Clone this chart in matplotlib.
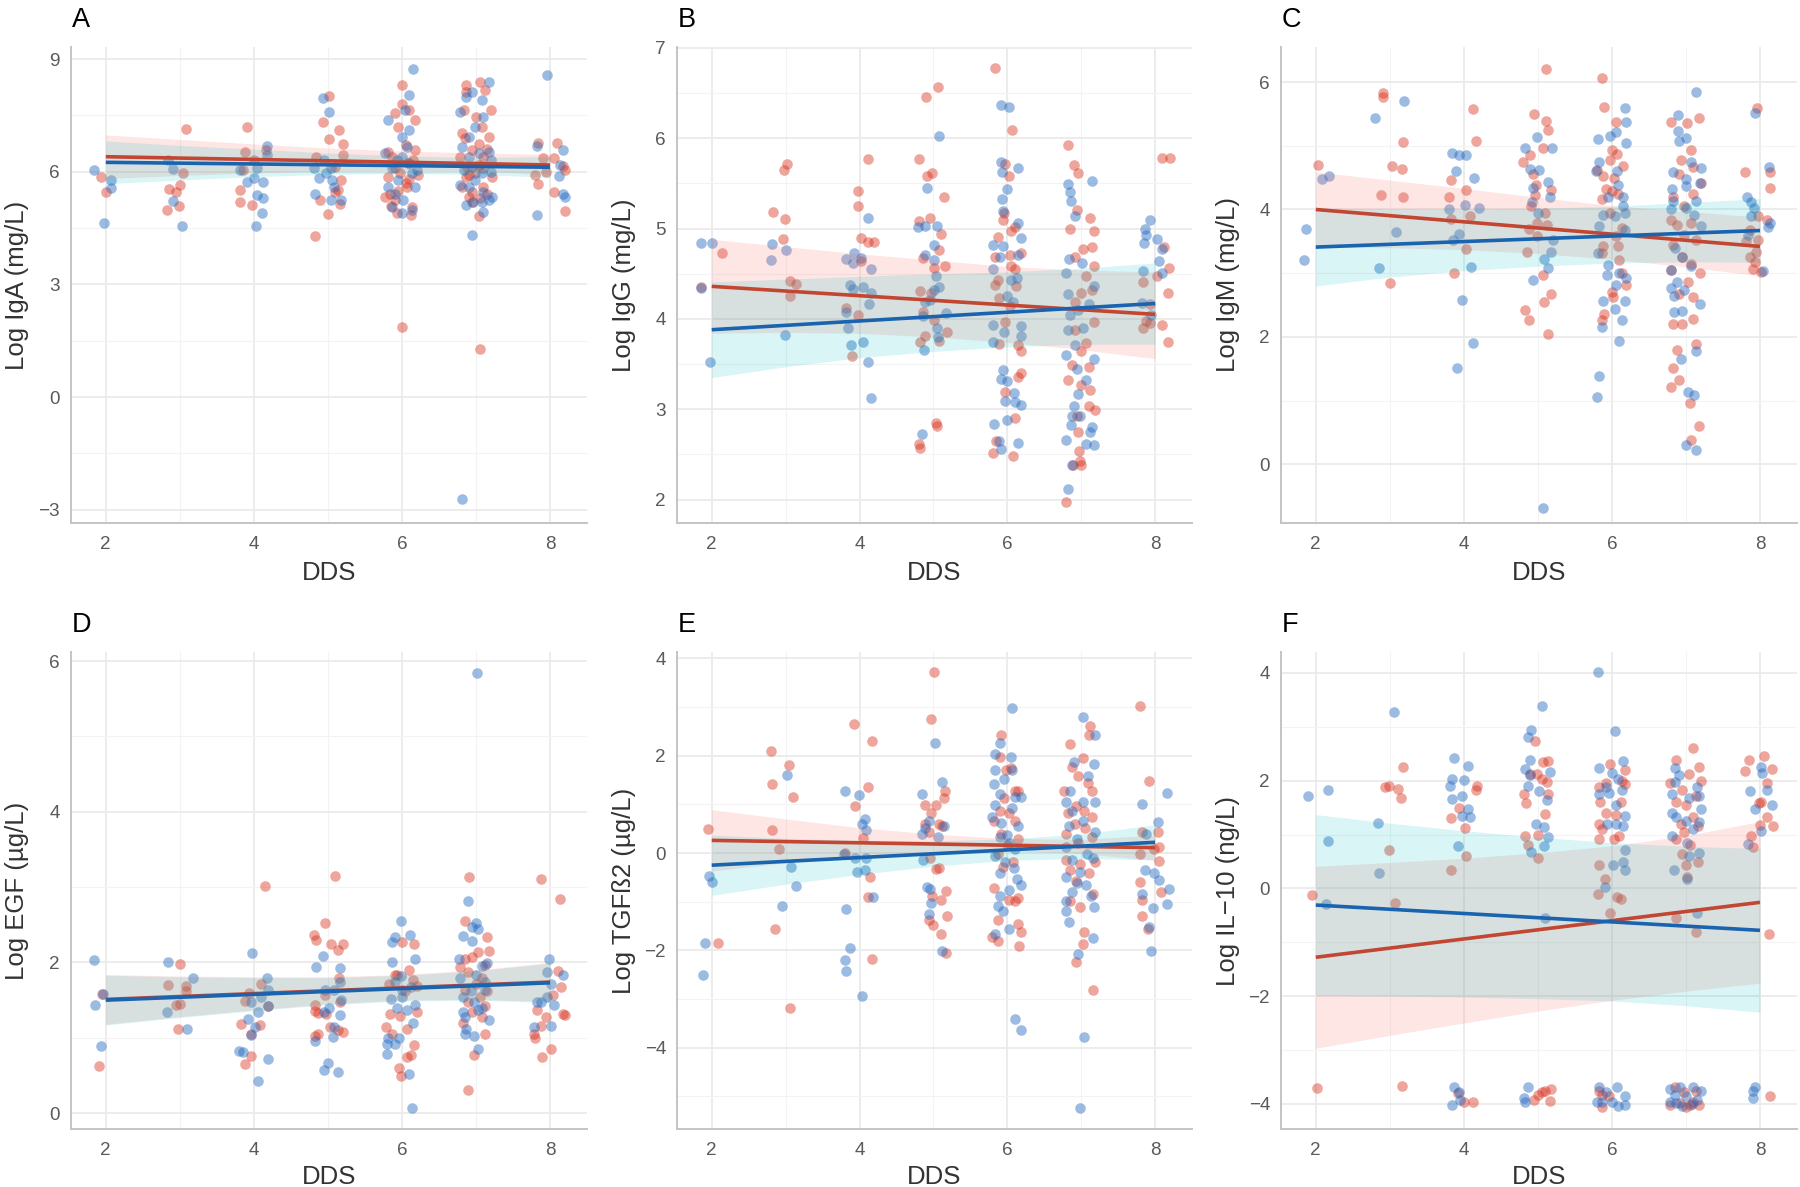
import numpy as np
import matplotlib
matplotlib.use("Agg")
import matplotlib.pyplot as plt

plt.rcParams['font.family'] = ['Liberation Sans', 'DejaVu Sans']

# ---------------- data ----------------
dds_grid = [2, 3, 4, 5, 6, 7, 8]

# Panel A : Log IgA (mg/L)
A_red = [(1.93,5.87),(2.0,5.47),
 (3.09,7.15),(2.82,4.98),(2.86,5.53),(2.95,5.47),(3.0,5.66),(2.99,5.1),(3.04,5.96),
 (3.91,7.19),(3.88,6.53),(3.81,5.51),(3.81,5.2),(3.97,5.12),(4.0,6.31),(4.16,6.58),(3.86,6.04),
 (4.83,4.29),(5.02,8.02),(4.94,7.33),(5.15,7.11),(5.02,6.88),(5.2,6.73),(5.2,6.44),(4.84,6.4),(5.09,6.13),
 (5.18,5.78),(4.9,5.25),(5.09,5.47),(5.0,4.87),(5.17,5.14),(5.13,5.51),
 (6.0,8.3),(6.0,7.81),(5.91,7.55),(6.18,7.37),(5.95,7.2),(6.09,7.64),(5.81,6.53),(6.18,6.58),(6.09,6.22),
 (5.81,5.87),(6.22,5.91),(5.77,5.34),(5.91,5.25),(6.05,5.69),(6.13,5.07),(5.93,4.89),(6.12,4.85),(6.0,1.88),
 (5.86,6.4),(6.07,5.6),(5.98,5.96),(5.84,5.42),(5.9,6.1),(6.1,5.8),(5.95,5.5),(6.15,6.3),(5.85,5.1),(6.05,6.7),
 (6.86,8.3),(6.86,8.12),(7.06,8.39),(7.12,8.17),(6.84,7.63),(7.0,7.46),(7.2,7.63),(6.81,7.02),(7.08,7.19),
 (7.04,6.75),(7.17,6.93),(6.79,6.4),(6.95,6.58),(7.1,6.4),(6.88,6.13),(7.04,6.18),(7.22,5.87),(6.81,5.6),
 (6.95,5.47),(7.1,5.6),(7.15,5.42),(6.9,5.34),(7.04,4.81),(7.05,1.28),(6.86,5.87),(6.99,5.96),
 (6.9,5.9),(7.1,6.1),(6.95,5.2),(7.15,6.6),(6.85,6.9),(7.05,5.3),
 (7.84,6.76),(8.09,6.77),(7.9,6.36),(8.06,6.36),(7.8,5.91),(7.84,5.67),(8.2,6.05),(8.06,5.47),(8.2,4.96),
 (7.95,6.0),(8.17,6.15)]
A_blue = [(1.84,6.04),(1.98,4.63),(2.07,5.78),(2.07,5.56),
 (2.84,6.31),(2.91,6.06),(2.91,5.22),(3.03,4.56),
 (3.81,6.04),(3.91,5.73),(4.04,6.09),(4.04,5.38),(4.13,5.73),(4.13,5.29),(4.11,4.89),(4.03,4.56),(4.18,6.69),
 (4.18,6.44),(4.0,5.82),
 (4.93,7.97),(5.01,7.58),(4.83,5.42),(4.88,5.82),(4.97,5.96),(5.04,6.09),(5.06,5.78),(5.04,5.25),(5.18,5.25),
 (4.81,6.09),(4.95,6.31),(5.08,5.6),
 (6.15,8.74),(6.1,8.05),(5.81,7.37),(6.0,6.93),(6.04,7.63),(6.1,7.1),(5.77,6.49),(5.86,6.09),(6.0,6.4),
 (5.95,5.78),(6.13,5.96),(6.2,6.04),(5.81,5.6),(5.9,5.42),(6.02,5.25),(6.13,4.98),(6.0,4.89),(5.86,5.07),
 (6.07,6.67),(6.18,5.6),(5.93,6.31),(6.08,6.22),
 (6.81,-2.72),(6.95,4.31),(6.86,7.99),(6.94,8.12),(7.08,7.9),(7.17,8.39),(6.79,7.59),(6.9,6.93),(6.99,7.2),
 (7.1,7.46),(6.81,6.66),(6.9,6.4),(7.04,6.49),(7.17,6.53),(7.2,6.31),(6.84,6.04),(6.95,6.13),(7.08,5.96),
 (7.2,6.0),(6.79,5.65),(6.9,5.6),(6.99,5.78),(7.1,5.47),(7.22,5.34),(6.87,5.12),(6.96,5.2),(7.08,5.2),
 (7.1,4.94),(7.17,5.25),
 (7.96,8.57),(7.82,6.68),(8.17,6.58),(8.13,6.18),(8.12,5.89),(8.17,5.42),(8.2,5.34),(7.83,4.85)]
A_red_line = [6.40, 6.18]
A_blue_line = [6.25, 6.12]
A_red_lo = [5.82, 5.90, 5.97, 6.02, 6.04, 6.02, 5.92]
A_red_hi = [6.98, 6.86, 6.74, 6.63, 6.55, 6.50, 6.46]
A_blue_lo = [5.68, 5.78, 5.87, 5.93, 5.95, 5.93, 5.85]
A_blue_hi = [6.82, 6.70, 6.60, 6.50, 6.42, 6.38, 6.40]

# Panel B : Log IgG (mg/L)
B_red = [(2.14,4.73),(1.86,4.35),
 (2.83,5.18),(2.98,5.65),(3.02,5.71),(2.99,5.11),(2.97,4.88),(3.06,4.42),(3.14,4.39),(3.06,4.25),
 (4.12,5.77),(3.98,5.42),(3.98,5.25),(4.02,4.89),(4.11,4.85),(4.2,4.85),(4.02,4.64),(3.82,4.12),(3.98,4.04),(3.9,3.59),
 (4.9,6.46),(5.06,6.57),(4.8,5.77),(4.91,5.58),(4.98,5.62),(5.14,5.35),(4.8,5.08),(4.95,5.12),(5.1,4.94),(5.07,4.76),
 (4.86,4.67),(5.01,4.56),(5.16,4.58),(4.82,4.31),(4.97,4.29),(4.86,4.08),(5.01,3.99),(5.18,3.85),(4.89,3.81),
 (4.82,3.74),(5.08,3.75),(5.04,2.85),(5.05,2.81),(4.81,2.61),(4.82,2.57),
 (5.84,6.78),(6.06,6.09),(5.97,5.71),(6.02,5.58),(5.96,5.17),(5.94,5.1),(6.05,4.97),(6.1,5.02),(5.87,4.91),
 (6.18,4.73),(6.04,4.71),(5.84,4.68),(6.05,4.58),(6.1,4.55),(5.87,4.43),(5.83,4.38),(6.12,4.36),(5.89,4.23),
 (6.04,4.14),(5.97,3.96),(6.14,3.71),(6.18,3.64),(5.89,3.72),(6.18,3.4),(6.14,3.36),(5.97,3.19),(6.1,2.9),
 (5.85,2.65),(5.8,2.51),(6.08,2.48),
 (6.82,5.93),(6.9,5.7),(6.96,5.62),(6.95,5.2),(6.85,4.99),(7.12,5.12),(7.18,4.97),(7.14,4.8),(7.03,4.77),
 (6.92,4.69),(7.17,4.58),(7.06,4.47),(7.14,4.32),(7.0,4.29),(6.92,4.19),(7.17,3.97),(6.92,3.88),(7.06,3.73),
 (7.0,3.64),(7.1,3.47),(6.87,3.49),(6.82,3.32),(7.12,3.21),(7.0,3.27),(7.1,3.04),(7.19,2.99),(6.94,2.93),
 (6.96,2.75),(6.97,2.54),(6.89,2.38),(7.0,2.38),(6.8,1.97),(6.99,2.43),
 (8.1,5.78),(8.2,5.78),(8.12,4.8),(8.19,4.56),(8.02,4.47),(7.84,4.41),(8.17,4.29),(7.93,4.16),(8.09,3.93),
 (7.84,3.9),(7.93,3.95),(8.18,3.74),(7.88,3.98)]
B_blue = [(1.85,4.84),(2.0,4.84),(1.86,4.34),(1.97,3.52),
 (2.82,4.83),(2.8,4.65),(3.01,4.76),(2.99,3.82),
 (4.11,5.12),(3.82,4.66),(3.93,4.73),(4.02,4.67),(3.91,4.62),(4.15,4.55),(3.87,4.37),(4.05,4.35),(4.15,4.29),
 (3.91,4.33),(4.13,4.17),(3.82,4.08),(3.84,3.9),(3.88,3.71),(4.05,3.74),(4.11,3.52),(4.16,3.12),
 (5.07,6.02),(4.92,5.45),(4.79,5.02),(4.88,5.03),(5.05,5.03),(5.01,4.82),(4.89,4.71),(5.01,4.65),(5.03,4.47),
 (5.08,4.35),(5.01,4.32),(4.88,4.19),(4.96,4.21),(4.86,4.03),(5.17,4.07),(5.05,3.9),(5.06,3.8),(4.87,3.66),(4.85,2.72),
 (5.92,6.37),(6.02,6.35),(5.91,5.74),(5.93,5.63),(6.14,5.67),(6.0,5.44),(5.93,5.33),(5.94,5.19),(6.14,5.06),
 (6.19,4.9),(5.8,4.82),(5.94,4.81),(5.9,4.68),(6.14,4.71),(5.81,4.55),(6.05,4.43),(6.13,4.45),(6.0,4.25),
 (6.08,4.19),(5.81,3.93),(5.96,3.86),(6.18,3.92),(6.18,3.81),(5.81,3.74),(5.94,3.43),(5.91,3.33),(6.0,3.31),
 (6.09,3.18),(5.97,3.09),(6.11,3.08),(6.19,3.05),(5.82,2.84),(5.99,2.88),(5.89,2.65),(6.14,2.63),(5.91,2.56),
 (6.82,5.49),(6.85,5.4),(6.86,5.3),(7.14,5.53),(6.92,5.14),(6.8,4.51),(6.82,4.27),(6.84,4.66),(7.01,4.62),
 (7.17,4.36),(6.96,4.1),(6.85,4.04),(7.1,4.17),(7.03,3.9),(6.82,3.88),(6.92,3.71),(6.8,3.6),(7.17,3.56),
 (6.94,3.45),(7.06,3.32),(6.96,3.17),(6.9,3.03),(6.87,2.93),(6.86,2.82),(6.99,2.93),(7.15,2.8),(7.12,2.75),
 (6.79,2.66),(7.06,2.62),(7.17,2.6),(6.82,2.12),(6.88,2.38),
 (7.93,5.09),(7.86,4.99),(7.88,4.93),(8.02,4.88),(8.09,4.77),(7.85,4.84),(7.84,4.53),(8.05,4.64),(8.09,4.51),
 (7.82,4.18),(7.94,4.04)]
B_red_line = [4.36, 4.05]
B_blue_line = [3.88, 4.17]
B_red_lo = [3.84, 3.85, 3.84, 3.80, 3.74, 3.66, 3.56]
B_red_hi = [4.88, 4.80, 4.72, 4.65, 4.58, 4.54, 4.52]
B_blue_lo = [3.35, 3.47, 3.57, 3.64, 3.69, 3.72, 3.72]
B_blue_hi = [4.41, 4.44, 4.47, 4.50, 4.52, 4.56, 4.62]

# Panel C : Log IgM (mg/L)
C_red = [(2.03,4.7),(2.91,5.83),(2.91,5.77),(3.18,5.06),(3.03,4.69),(3.17,4.63),(2.88,4.23),(3.18,4.19),(3.0,2.85),
 (4.12,5.58),(4.17,5.08),(3.83,4.46),(3.8,4.2),(4.03,4.31),(3.83,3.85),(4.08,3.9),(4.03,3.38),(3.87,3.01),
 (5.11,6.2),(4.95,5.5),(5.11,5.39),(5.13,5.25),(4.9,4.86),(5.07,4.97),(4.8,4.75),(4.94,4.55),(4.98,4.39),
 (5.18,4.31),(4.96,4.22),(4.91,4.05),(5.1,3.94),(4.99,3.79),(4.88,3.69),(5.12,3.75),(4.99,3.59),(4.85,3.34),
 (5.07,2.97),(5.18,2.68),(4.83,2.43),(4.88,2.27),(5.08,2.55),(5.13,2.05),
 (5.87,6.07),(5.89,5.61),(6.05,5.37),(6.0,4.94),(6.07,4.87),(5.98,4.77),(6.15,4.68),(5.8,4.62),(5.88,4.53),
 (6.03,4.5),(5.92,4.32),(6.0,4.29),(5.86,4.16),(6.08,4.24),(5.97,3.95),(6.14,3.71),(6.05,3.58),(5.88,3.42),
 (6.08,3.42),(5.86,3.31),(6.1,3.2),(6.14,3.0),(6.19,2.81),(6.0,2.7),(5.89,2.36),(5.86,2.26),(6.01,2.62),
 (7.17,5.44),(7.02,5.35),(6.8,5.38),(7.07,4.93),(6.93,4.78),(7.09,4.66),(6.9,4.56),(7.21,4.42),(6.83,4.19),
 (7.1,4.24),(6.98,4.05),(6.8,3.84),(6.88,3.75),(7.07,3.79),(6.98,3.6),(7.14,3.52),(6.83,3.44),(6.95,3.26),
 (7.07,3.15),(6.8,3.05),(7.19,3.0),(7.03,2.86),(6.9,2.68),(7.09,2.62),(6.83,2.2),(6.95,2.2),(7.1,2.28),
 (7.13,1.89),(6.88,1.8),(6.83,1.51),(6.91,1.33),(6.8,1.21),(7.06,0.96),(7.17,0.6),(7.07,0.38),
 (7.96,5.6),(7.8,4.59),(8.14,4.59),(8.14,4.33),(7.97,3.9),(8.09,3.83),(7.86,3.68),(7.97,3.52),(7.81,3.5),
 (7.95,3.34),(7.86,3.26),(7.9,3.06),(8.02,3.02),(7.93,3.18)]
C_blue = [(1.87,3.70),(1.84,3.21),(2.08,4.48),(2.18,4.53),
 (2.8,5.43),(3.19,5.7),(2.86,3.08),(3.08,3.65),
 (3.84,4.89),(3.93,4.86),(4.03,4.86),(3.89,4.61),(4.14,4.5),(3.8,4.0),(4.02,4.07),(4.2,4.02),(3.93,3.62),
 (3.86,3.52),(4.1,3.1),(3.97,2.58),(4.12,1.9),(3.91,1.51),
 (4.83,4.97),(4.99,5.13),(5.19,4.96),(4.9,4.64),(5.02,4.62),(4.94,4.33),(5.13,4.43),(4.92,4.11),(5.16,4.19),
 (5.0,3.95),(5.2,3.52),(5.18,3.33),(5.08,3.22),(5.13,3.08),(4.94,2.9),(5.07,-0.68),
 (6.17,5.6),(6.19,5.38),(6.19,5.05),(6.06,5.21),(5.97,5.15),(5.81,5.11),(5.83,4.74),(5.79,4.61),(6.07,4.61),
 (6.08,4.38),(6.15,4.2),(5.95,4.2),(6.15,4.05),(6.04,3.89),(5.88,3.92),(6.17,3.95),(5.83,3.74),(6.17,3.68),
 (5.81,3.32),(5.95,3.13),(6.1,3.0),(5.94,2.97),(6.19,2.92),(6.06,2.81),(5.88,2.56),(6.17,2.57),(6.04,2.44),
 (6.13,2.26),(5.86,2.16),(6.1,1.94),(5.82,1.39),(5.8,1.05),
 (7.14,5.84),(6.89,5.49),(6.89,5.23),(7.0,5.12),(6.91,5.07),(7.07,4.74),(7.21,4.65),(6.83,4.59),(7.0,4.48),
 (7.0,4.37),(7.19,4.42),(6.81,4.32),(6.83,4.13),(7.13,4.13),(7.0,4.03),(6.8,4.0),(7.11,3.92),(7.21,3.74),
 (6.85,3.39),(6.94,3.26),(6.8,3.05),(7.07,3.11),(6.8,2.77),(6.88,2.86),(6.84,2.65),(6.98,2.73),(7.19,2.52),
 (6.84,2.39),(6.94,2.41),(7.14,1.78),(6.93,1.66),(7.03,1.13),(7.11,1.09),(7.0,0.3),(7.14,0.22),
 (7.93,5.51),(8.12,4.67),(7.83,4.2),(7.88,4.12),(7.92,4.03),(7.88,3.89),(8.13,3.79),(8.11,3.72),(8.04,3.03),(7.84,3.6)]
C_red_line = [4.00, 3.42]
C_blue_line = [3.41, 3.67]
C_red_lo = [3.41, 3.40, 3.37, 3.31, 3.22, 3.10, 2.96]
C_red_hi = [4.59, 4.46, 4.33, 4.19, 4.06, 3.97, 3.88]
C_blue_lo = [2.80, 2.94, 3.04, 3.11, 3.16, 3.18, 3.17]
C_blue_hi = [4.02, 4.01, 4.01, 4.02, 4.05, 4.11, 4.17]

# Panel D : Log EGF (ug/L)
D_red = [(1.91,0.62),(1.95,1.58),
 (3.0,1.98),(2.84,1.7),(3.08,1.69),(3.08,1.62),(3.0,1.45),(2.95,1.44),(2.97,1.12),
 (4.15,3.01),(3.88,0.65),(3.96,0.76),(3.82,1.19),(4.08,1.17),(3.96,1.05),(3.88,1.49),(3.94,1.59),(4.09,1.72),(4.19,1.42),
 (5.09,3.15),(4.96,2.53),(4.81,2.37),(4.84,2.3),(5.04,2.25),(5.2,2.25),(5.13,2.17),(5.15,1.8),(4.96,1.57),
 (4.82,1.43),(4.83,1.35),(4.98,1.32),(4.87,1.33),(5.17,1.47),(5.03,1.15),(5.13,1.1),(5.2,1.08),(4.86,1.05),(4.83,1.02),
 (6.0,2.27),(6.16,2.25),(6.09,1.9),(5.91,1.84),(5.83,1.72),(6.15,1.77),(6.04,1.62),(6.2,1.69),(5.84,1.32),
 (5.98,1.29),(6.2,1.34),(5.79,1.15),(6.07,1.12),(5.87,1.05),(6.16,0.9),(6.12,0.77),(6.07,0.75),(5.96,0.6),
 (5.99,0.49),(5.94,1.84),
 (6.91,3.14),(6.85,2.55),(7.15,2.34),(7.03,2.14),(7.18,2.15),(6.85,2.04),(6.95,2.07),(6.79,1.94),(7.12,1.97),
 (6.89,1.87),(7.08,1.79),(7.0,1.72),(6.85,1.64),(7.15,1.62),(7.05,1.54),(6.89,1.47),(7.12,1.42),(6.95,1.34),
 (7.08,1.27),(6.82,1.2),(7.12,1.05),(6.97,0.77),(6.89,0.31),
 (7.88,3.11),(8.14,2.84),(8.11,1.89),(8.15,1.67),(8.04,1.57),(7.83,1.37),(7.94,1.27),(8.17,1.32),(8.2,1.3),
 (7.88,1.16),(7.79,1.05),(7.8,1.0),(7.89,0.74),(8.01,0.85)]
D_blue = [(1.84,2.03),(1.85,1.43),(1.93,0.89),(1.96,1.58),
 (2.84,2.01),(2.82,1.34),(3.1,1.12),(3.18,1.79),
 (3.98,2.12),(3.8,0.82),(3.86,0.81),(4.05,0.43),(4.19,0.72),(3.92,1.25),(4.01,1.15),(3.96,1.04),(4.18,1.8),
 (4.19,1.64),(4.09,1.54),(4.19,1.42),(4.06,1.34),(3.96,1.47),
 (4.93,2.08),(4.84,1.94),(5.16,1.93),(5.16,1.74),(4.96,1.64),(5.08,1.64),(5.18,1.5),(5.02,1.39),(4.95,1.34),
 (5.17,1.3),(5.08,1.15),(5.07,1.01),(4.82,0.96),(5.0,0.67),(4.95,0.57),(5.14,0.55),
 (5.99,2.55),(5.91,2.34),(5.86,2.27),(6.11,2.37),(5.86,2.0),(6.17,2.05),(5.99,1.82),(5.91,1.74),(6.12,1.67),
 (5.85,1.52),(6.0,1.54),(6.17,1.44),(5.93,1.39),(6.07,1.37),(6.15,1.2),(5.81,1.0),(5.96,1.0),(5.8,0.92),
 (5.91,0.92),(5.8,0.78),(6.09,0.52),(6.14,0.07),(6.0,1.64),
 (7.02,5.84),(6.89,2.81),(7.0,2.53),(6.95,2.47),(7.03,2.44),(6.82,2.35),(6.95,2.29),(6.77,2.04),(7.08,1.95),
 (7.15,1.99),(6.79,1.79),(7.0,1.84),(7.12,1.74),(6.82,1.54),(6.97,1.47),(7.08,1.39),(6.82,1.34),(6.85,1.27),
 (7.03,1.37),(7.18,1.24),(6.87,1.12),(6.97,1.02),(6.85,1.05),(7.03,0.85),(7.12,1.64),(6.93,1.62),
 (7.99,2.04),(7.96,1.88),(8.01,1.72),(8.17,1.83),(7.83,1.47),(7.88,1.48),(8.06,1.44),(7.78,1.15),(8.02,1.16),(7.96,1.54)]
D_red_line = [1.51, 1.74]
D_blue_line = [1.50, 1.73]
D_red_lo = [1.18, 1.28, 1.37, 1.45, 1.50, 1.51, 1.48]
D_red_hi = [1.84, 1.82, 1.81, 1.81, 1.84, 1.90, 2.00]
D_blue_lo = [1.17, 1.27, 1.36, 1.44, 1.49, 1.50, 1.47]
D_blue_hi = [1.83, 1.81, 1.80, 1.80, 1.83, 1.89, 1.99]

# Panel E : Log TGFß2 (ug/L)
E_red = [(1.95,0.49),(2.08,-1.85),
 (2.8,2.09),(2.81,1.41),(2.81,0.47),(2.91,0.08),(3.05,1.8),(3.1,1.15),(2.85,-1.57),(3.06,-3.19),
 (3.92,2.65),(4.17,2.3),(4.11,1.36),(3.94,0.96),(4.05,0.3),(3.8,0.01),(4.14,-0.49),(4.11,-0.9),(4.17,-2.17),
 (5.01,3.71),(4.97,2.76),(5.16,1.28),(5.14,1.14),(5.03,0.99),(4.89,0.99),(4.97,0.83),(4.88,0.59),(5.07,0.59),
 (4.94,0.43),(5.12,0.55),(4.96,-0.11),(5.04,-0.32),(5.07,-0.3),(5.17,-0.78),(4.98,-0.88),(5.1,-0.96),
 (4.94,-1.38),(4.99,-1.47),(5.19,-1.3),(5.1,-1.67),(5.17,-2.05),
 (5.91,2.42),(5.9,1.97),(6.05,1.74),(5.98,1.7),(6.1,1.28),(5.95,1.13),(6.15,1.28),(5.9,0.86),(5.82,0.66),
 (6.03,0.82),(6.1,0.66),(5.92,0.39),(6.15,0.28),(6.0,0.16),(5.87,-0.03),(6.08,-0.18),(5.94,-0.28),(5.82,-0.72),
 (6.03,-0.96),(6.1,-0.99),(6.14,-0.92),(5.88,-1.38),(6.14,-1.46),(6.19,-1.63),(5.79,-1.73),(5.87,-1.81),(6.16,-1.9),
 (6.85,2.24),(7.12,2.6),(7.11,2.42),(7.02,1.95),(6.87,1.76),(6.96,1.59),(7.09,1.43),(6.77,1.28),(7.15,1.28),
 (6.93,0.97),(7.04,0.86),(6.82,0.82),(7.14,0.74),(6.91,0.59),(7.05,0.51),(6.8,0.39),(7.14,0.32),(6.96,0.2),
 (6.8,-0.15),(7.19,-0.18),(6.98,-0.22),(6.85,-0.34),(7.11,-0.42),(6.93,-0.57),(7.16,-0.84),(6.85,-0.99),
 (6.98,-1.11),(7.04,-1.63),(7.03,-1.87),(6.93,-2.23),(7.16,-2.82),
 (7.8,3.03),(7.92,1.47),(7.82,0.43),(8.04,0.43),(7.8,-0.02),(8.06,0.12),(7.98,0.08),(8.06,-0.17),(7.8,-0.6),
 (7.82,-0.96),(7.83,-1.3),(7.91,-1.57),(8.08,-0.8)]
E_blue = [(1.88,-2.51),(1.91,-1.85),(1.96,-0.48),(2.0,-0.59),
 (3.02,1.6),(2.95,-1.09),(3.07,-0.29),(3.14,-0.67),
 (3.81,1.28),(3.99,1.19),(4.08,0.69),(4.04,0.6),(4.09,0.47),(3.79,-0.01),(3.94,-0.11),(4.09,-0.11),(3.96,-0.38),
 (4.08,-0.34),(4.18,-0.9),(3.82,-1.15),(3.87,-1.96),(3.81,-2.2),(3.82,-2.42),(4.04,-2.94),
 (5.02,2.26),(5.12,1.46),(5.14,0.56),(4.94,0.66),(4.84,0.39),(4.89,0.51),(4.86,-0.15),(4.92,-0.69),(4.95,-0.74),
 (4.97,-1.03),(4.94,-1.25),(5.12,-2.01),(4.84,1.22),(5.06,0.32),
 (6.06,2.97),(5.9,2.26),(5.84,2.03),(6.05,1.97),(5.83,1.7),(6.07,1.7),(5.95,1.53),(5.82,1.42),(5.9,1.22),
 (6.1,1.15),(6.18,1.15),(5.84,0.99),(6.07,0.93),(5.79,0.74),(5.92,0.62),(6.15,0.55),(5.9,0.32),(6.03,0.2),
 (6.1,0.08),(5.84,-0.07),(5.97,-0.18),(6.09,-0.3),(5.9,-0.42),(6.13,-0.53),(6.19,-0.65),(6.03,-0.76),(5.9,-0.88),
 (5.87,-1.09),(5.94,-1.19),(6.02,-1.56),(5.84,-1.66),(6.1,-3.42),(6.18,-3.64),(6.0,0.36),
 (7.02,2.8),(7.19,2.42),(7.18,1.82),(6.9,1.88),(7.09,1.59),(6.85,1.28),(7.03,1.05),(6.8,1.05),(7.19,1.05),
 (6.88,0.86),(7.03,0.66),(6.83,0.55),(7.19,0.43),(6.94,0.28),(6.8,0.12),(7.08,-0.03),(6.88,-0.15),(7.16,-0.11),
 (6.98,-0.38),(6.8,-0.49),(6.94,-0.61),(7.07,-0.65),(6.88,-0.8),(7.13,-0.88),(6.8,-0.99),(6.8,-1.19),(7.18,-1.11),
 (6.84,-1.42),(7.16,-1.74),(6.96,-2.07),(7.04,-3.77),(6.99,-5.23),
 (7.82,1.01),(8.16,1.23),(8.04,0.64),(7.88,0.39),(7.87,-0.35),(7.99,-0.42),(8.06,-0.56),(8.19,-0.74),(7.82,-0.84),
 (8.16,-1.05),(7.97,-1.13),(7.92,-1.51),(7.95,-2.01)]
E_red_line = [0.26, 0.11]
E_blue_line = [-0.25, 0.22]
E_red_lo = [-0.37, -0.20, -0.07, 0.02, 0.05, -0.01, -0.15]
E_red_hi = [0.89, 0.70, 0.52, 0.39, 0.30, 0.28, 0.37]
E_blue_lo = [-0.87, -0.64, -0.44, -0.27, -0.15, -0.11, -0.14]
E_blue_hi = [0.37, 0.30, 0.26, 0.25, 0.29, 0.39, 0.58]

# Panel F : Log IL-10 (ng/L)
F_red = [(1.95,-0.12),(2.02,-3.71),
 (2.93,1.89),(2.99,1.91),(3.11,1.85),(3.15,1.68),(3.18,2.25),(2.99,0.72),(3.07,-0.27),(3.16,-3.67),
 (3.82,1.3),(3.93,1.5),(4.01,1.12),(4.18,1.9),(4.17,1.82),(4.03,0.61),(3.82,0.34),(3.92,-3.81),(4.0,-3.97),(4.12,-3.97),
 (4.96,2.74),(5.07,2.34),(5.14,2.36),(4.9,2.13),(4.99,2.13),(5.06,2.04),(5.12,1.97),(4.81,1.76),(4.84,1.59),
 (5.14,1.76),(5.09,1.39),(4.82,0.98),(5.0,0.99),(4.87,0.81),(5.0,0.56),(4.95,-3.93),(5.05,-3.79),(5.1,-3.76),
 (5.18,-3.72),(5.17,-3.95),(5.0,-3.84),
 (5.82,0.43),(5.9,0.18),(5.97,-0.46),(5.81,-0.1),(6.07,-0.17),(6.12,-0.2),(5.82,1.89),(5.92,1.96),(6.13,2.0),
 (6.18,1.94),(5.84,1.61),(5.92,1.4),(6.05,1.37),(5.82,1.19),(5.87,1.11),(6.1,0.98),(6.03,0.91),(5.82,0.91),
 (6.12,1.61),(5.97,2.31),(6.18,2.2),(5.86,-3.83),(5.87,-4.07),(5.96,-3.86),(5.83,-3.76),
 (7.09,2.61),(6.87,2.38),(7.18,2.25),(7.04,2.13),(7.2,1.99),(6.79,1.96),(6.95,1.82),(7.13,1.71),(6.87,1.61),
 (7.0,1.54),(7.09,1.33),(6.93,1.19),(7.16,1.16),(6.98,1.05),(6.86,0.91),(7.06,0.81),(6.95,0.63),(7.0,0.44),
 (7.01,0.22),(7.16,0.49),(6.86,-0.56),(7.14,-0.82),(6.85,-3.69),(6.98,-3.79),(7.13,-3.76),(6.79,-4.03),
 (6.92,-3.99),(7.05,-4.02),(7.18,-4.03),(7.1,-3.97),(7.0,-4.07),
 (7.85,2.39),(7.8,2.18),(8.05,2.46),(8.16,2.22),(8.1,1.96),(7.98,1.59),(8.02,1.61),(8.1,1.32),(8.0,1.18),
 (8.17,1.16),(7.88,0.98),(7.91,0.77),(8.12,-0.85),(8.13,-3.86)]
F_blue = [(1.9,1.71),(2.17,1.83),(2.17,0.88),(2.14,-0.29),
 (3.06,3.28),(2.84,1.21),(2.85,0.29),
 (3.87,2.43),(4.05,2.27),(3.84,2.03),(3.81,1.9),(4.0,2.01),(3.97,1.71),(3.84,1.66),(4.05,1.47),(3.97,1.35),
 (4.08,1.32),(3.92,0.79),(3.87,-3.69),(3.93,-3.79),(3.95,-3.93),(3.84,-4.03),
 (4.91,2.95),(4.87,2.81),(4.89,2.38),(4.83,2.22),(4.89,2.11),(4.86,1.91),(5.02,1.8),(5.12,1.64),(5.17,2.17),
 (5.06,3.39),(4.98,1.19),(5.08,1.14),(5.14,0.96),(5.08,0.79),(4.91,0.67),(5.1,-0.55),(4.87,-3.69),(4.81,-3.9),(4.83,-3.97),
 (5.81,4.01),(6.04,2.92),(5.82,2.24),(6.15,2.36),(6.0,2.15),(6.08,2.04),(5.82,1.75),(5.96,1.78),(6.13,1.82),
 (5.92,1.89),(6.05,1.54),(6.17,1.34),(5.94,1.19),(6.05,1.19),(6.15,1.16),(6.18,0.72),(6.15,0.49),(6.01,0.44),
 (6.17,0.34),(5.91,0.02),(5.82,-3.69),(6.07,-3.69),(5.8,-3.97),(5.86,-3.97),(6.18,-3.86),(6.17,-4.03),
 (6.0,-3.97),(5.92,-3.79),(6.08,-4.04),
 (6.85,2.24),(6.91,2.1),(6.81,1.75),(6.85,1.98),(7.15,1.89),(7.18,1.71),(7.04,1.68),(6.81,1.4),(7.21,1.47),
 (6.87,1.33),(7.0,1.26),(7.18,1.23),(6.81,0.98),(7.09,1.11),(7.02,0.84),(7.18,0.65),(7.04,0.6),(6.84,0.34),
 (7.01,0.18),(7.15,-0.45),(6.79,-3.72),(6.92,-3.69),(7.1,-3.69),(7.21,-3.76),(6.85,-3.83),(7.0,-3.86),
 (7.15,-3.93),(6.87,-3.98),(7.08,-4.0),(6.95,-4.05),(6.79,-3.97),
 (8.02,2.25),(8.03,2.15),(8.1,1.82),(7.87,1.8),(7.93,1.47),(8.16,1.55),(8.02,1.07),(7.84,0.83),(7.93,-3.69),
 (7.9,-3.76),(7.9,-3.9)]
F_red_line = [-1.28, -0.26]
F_blue_line = [-0.31, -0.78]
F_red_lo = [-2.97, -2.73, -2.50, -2.28, -2.08, -1.91, -1.76]
F_red_hi = [0.41, 0.48, 0.56, 0.66, 0.79, 0.98, 1.24]
F_blue_lo = [-1.99, -2.00, -2.02, -2.05, -2.09, -2.18, -2.30]
F_blue_hi = [1.37, 1.21, 1.07, 0.95, 0.85, 0.78, 0.74]

panel_letters = ["A", "B", "C", "D", "E", "F"]
y_titles = ["Log IgA (mg/L)", "Log IgG (mg/L)", "Log IgM (mg/L)",
            "Log EGF (\u00b5g/L)", "Log TGF\u00df2 (\u00b5g/L)", "Log IL\u221210 (ng/L)"]
x_title = "DDS"
x_ticks = [2, 4, 6, 8]
y_ticks = [[-3, 0, 3, 6, 9], [2, 3, 4, 5, 6, 7], [0, 2, 4, 6],
           [0, 2, 4, 6], [-4, -2, 0, 2, 4], [-4, -2, 0, 2, 4]]

# ---------------- styling ----------------
W, H = 1800, 1187
RED_PT, BLUE_PT = "#D8321F", "#1F66BF"
RED_LINE, BLUE_LINE = "#C24632", "#1A63AE"
RED_FILL, BLUE_FILL = "#F8766D", "#00BFC4"

fig = plt.figure(figsize=(W / 100, H / 100), dpi=100)

col_px = [(71, 587), (677, 1192), (1281, 1797)]
row_px = [(47, 523), (652, 1129)]
xlabel_gap = [38.5, 35.5]

panels = [
    (A_red, A_blue, A_red_line, A_blue_line, A_red_lo, A_red_hi, A_blue_lo, A_blue_hi, (-3.35, 9.32), [-1.5, 1.5, 4.5, 7.5]),
    (B_red, B_blue, B_red_line, B_blue_line, B_red_lo, B_red_hi, B_blue_lo, B_blue_hi, (1.74, 7.01), [2.5, 3.5, 4.5, 5.5, 6.5]),
    (C_red, C_blue, C_red_line, C_blue_line, C_red_lo, C_red_hi, C_blue_lo, C_blue_hi, (-0.92, 6.55), [1, 3, 5]),
    (D_red, D_blue, D_red_line, D_blue_line, D_red_lo, D_red_hi, D_blue_lo, D_blue_hi, (-0.21, 6.12), [1, 3, 5]),
    (E_red, E_blue, E_red_line, E_blue_line, E_red_lo, E_red_hi, E_blue_lo, E_blue_hi, (-5.67, 4.13), [-5, -3, -1, 1, 3]),
    (F_red, F_blue, F_red_line, F_blue_line, F_red_lo, F_red_hi, F_blue_lo, F_blue_hi, (-4.47, 4.39), [-3, -1, 1, 3]),
]

for i, (red, blue, rl, bl, rlo, rhi, blo, bhi, ylim, yminor) in enumerate(panels):
    r, c = divmod(i, 3)
    x0, x1 = col_px[c]
    y0, y1 = row_px[r]
    wpx, hpx = x1 - x0, y1 - y0
    ax = fig.add_axes([x0 / W, 1 - y1 / H, wpx / W, hpx / H])

    rx, ry = zip(*red)
    bx, by = zip(*blue)
    ax.scatter(rx, ry, s=58, color=RED_PT, alpha=0.44, linewidths=0, zorder=2)
    ax.scatter(bx, by, s=58, color=BLUE_PT, alpha=0.44, linewidths=0, zorder=2)

    ax.fill_between(dds_grid, rlo, rhi, color=RED_FILL, alpha=0.18, linewidth=0, zorder=3)
    ax.fill_between(dds_grid, blo, bhi, color=BLUE_FILL, alpha=0.15, linewidth=0, zorder=3)
    ax.plot([dds_grid[0], dds_grid[-1]], rl, color=RED_LINE, lw=2.6, zorder=4, solid_capstyle='butt')
    ax.plot([dds_grid[0], dds_grid[-1]], bl, color=BLUE_LINE, lw=2.6, zorder=4, solid_capstyle='butt')

    ax.set_xlim(1.53, 8.5)
    ax.set_ylim(*ylim)
    ax.set_xticks(x_ticks)
    ax.set_xticks([3, 5, 7], minor=True)
    ax.set_yticks(y_ticks[i])
    ax.set_yticks(yminor, minor=True)
    ax.grid(which='major', color='#EBEBEB', lw=1.3)
    ax.grid(which='minor', color='#F3F3F3', lw=0.8)
    ax.set_axisbelow(True)
    for s in ('top', 'right'):
        ax.spines[s].set_visible(False)
    for s in ('left', 'bottom'):
        ax.spines[s].set_color('#C4C4C4')
        ax.spines[s].set_linewidth(1.4)
    ax.tick_params(which='both', length=0)
    ax.tick_params(axis='x', labelsize=13.6, labelcolor='#5A5A5A', pad=9.4)
    ax.tick_params(axis='y', labelsize=13.6, labelcolor='#5A5A5A', pad=7.9)

    ax.set_xlabel(x_title, fontsize=18.5, color='#333333')
    ax.xaxis.set_label_coords(0.5, -xlabel_gap[r] / hpx)
    ax.xaxis.label.set_verticalalignment('top')
    ax.set_ylabel(y_titles[i], fontsize=18.5, color='#333333')
    ax.yaxis.set_label_coords(-53.5 / wpx, 0.5)
    ax.yaxis.label.set_verticalalignment('center')

    ax.annotate(panel_letters[i], xy=(0, 1), xycoords='axes fraction',
                xytext=(1, 20), textcoords='offset pixels',
                ha='left', va='baseline', fontsize=19.5, color='black')

fig.savefig("out.png", dpi=100)
